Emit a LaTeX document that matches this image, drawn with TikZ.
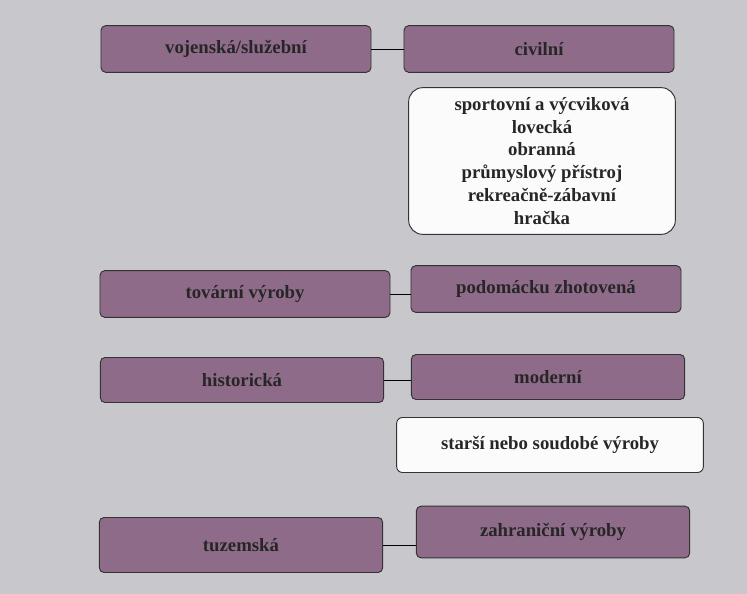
\documentclass[tikz,border=0pt]{standalone}
\usepackage{fontspec}
\setmainfont{Liberation Serif}
\usetikzlibrary{positioning}
\definecolor{pagegray}{HTML}{C8C7CC}
\definecolor{boxpurple}{HTML}{8F6B8A}
\begin{document}
\begin{tikzpicture}[x=0.03cm, y=-0.03cm,
kindnode/.style={rectangle, rounded corners=4pt, draw=black!80, fill=boxpurple, thick, minimum height=1.4cm, minimum width=8.1cm, align=center, font=\bfseries\fontsize{16}{19.5}\selectfont, text=black!85},
listnode/.style={rectangle, rounded corners=12pt, draw=black!80, fill=white!92!pagegray, thick, align=center, font=\bfseries\fontsize{16}{19.5}\selectfont, text=black!85},
]
\fill[pagegray] (0,0) rectangle (747,594);
%Nodes
\node[kindnode]		(mil)		at (236,49)		{vojenská/služební};
\node[kindnode]		(civ)		at (539,49)		{civilní};
\node[listnode, minimum width=8.0cm, minimum height=4.4cm] (use) at (542,161) {sportovní a výcviková\\lovecká\\obranná\\průmyslový přístroj\\rekreačně-zábavní\\hračka};
\node[kindnode, minimum width=8.7cm]	(fact)		at (245,294)		{tovární výroby};
\node[kindnode]		(home)		at (546,289)		{podomácku zhotovená};
\node[kindnode, minimum width=8.5cm, minimum height=1.35cm]	(hist)		at (242,380)		{historická};
\node[kindnode, minimum width=8.2cm, minimum height=1.35cm]	(mod)		at (548,377)		{moderní};
\node[listnode, rounded corners=5pt, minimum width=9.2cm, minimum height=1.65cm] (old) at (550,445) {starší nebo soudobé výroby};
\node[kindnode, minimum width=8.5cm, minimum height=1.65cm]	(home2)		at (241,545)		{tuzemská};
\node[kindnode, minimum width=8.2cm, minimum height=1.55cm]	(abroad)		at (553,532)		{zahraniční výroby};

%Lines
\draw[thick] (mil.east) -- (civ.west);
\draw[thick] (fact.east) -- (fact.east -| home.west);
\draw[thick] (hist.east) -- (hist.east -| mod.west);
\draw[thick] (home2.east) -- (home2.east -| abroad.west);
\end{tikzpicture}
\end{document}
